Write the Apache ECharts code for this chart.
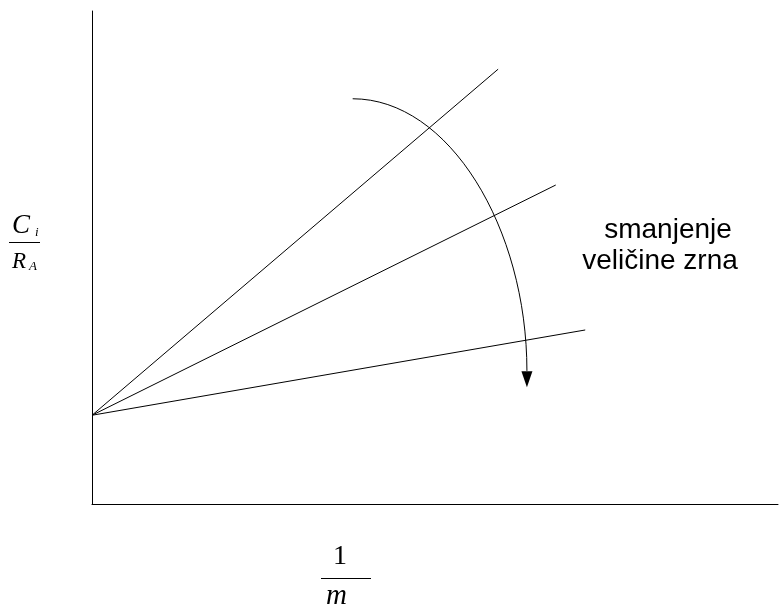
<!DOCTYPE html>
<html>
<head>
<meta charset="utf-8">
<script src="https://cdn.jsdelivr.net/npm/echarts@6/dist/echarts.min.js"></script>
<style>
html,body{margin:0;padding:0;background:#fff;}
#chart{width:779px;height:614px;}
</style>
</head>
<body>
<div id="chart"></div>
<script>
// Data (abstract units: x in [0,10], y in [0,10])
const origin = [0, 1.8];
const lineEnds = [[5.92, 8.82], [6.76, 6.47], [7.19, 3.53]];
// quarter-ellipse arrow: start point, corner and end point
const arcStart = [3.80, 8.22];
const arcEnd = [6.34, 2.70];
const arcCorner = [6.34, 8.22];
const arrowHead = [6.34, 2.53];
const annotationLines = ['smanjenje', 'veličine zrna'];

const chart = echarts.init(document.getElementById('chart'), null, {renderer: 'canvas'});

const lineSeries = lineEnds.map(function (end) {
  return {
    type: 'line',
    data: [origin, end],
    symbol: 'none',
    lineStyle: {color: '#000', width: 1},
    silent: true,
    animation: false
  };
});

const serif = '"Liberation Serif", "DejaVu Serif", serif';
const sans = '"Liberation Sans", Arial, sans-serif';
const K = 0.5523;

function txt(x, y, text, size, italic, family) {
  return {
    type: 'text', x: x, y: y,
    style: {
      text: text, fill: '#000', fontSize: size, fontFamily: family || serif,
      fontStyle: italic ? 'italic' : 'normal', verticalAlign: 'top', align: 'left'
    }
  };
}

chart.setOption({
  animation: false,
  backgroundColor: '#fff',
  grid: {left: 92, top: 11, right: 1, bottom: 110},
  xAxis: {
    type: 'value', min: 0, max: 10,
    axisLine: {show: true, onZero: false, lineStyle: {color: '#000', width: 1}},
    axisTick: {show: false}, axisLabel: {show: false}, splitLine: {show: false}
  },
  yAxis: {
    type: 'value', min: 0, max: 10,
    axisLine: {show: true, onZero: false, lineStyle: {color: '#000', width: 1}},
    axisTick: {show: false}, axisLabel: {show: false}, splitLine: {show: false}
  },
  series: lineSeries.concat([
    {
      type: 'custom',
      data: [[arcStart[0], arcStart[1], arcEnd[0], arcEnd[1], arcCorner[0], arcCorner[1]]],
      silent: true,
      renderItem: function (params, api) {
        const s = api.coord([api.value(0), api.value(1)]);
        const e = api.coord([api.value(2), api.value(3)]);
        const c = api.coord([api.value(4), api.value(5)]);
        const tip = api.coord(arrowHead);
        const cy = tip[1] + 8;
        const rx = c[0] - s[0];
        const ry = cy - s[1];
        return {
          type: 'group',
          children: [{
            type: 'bezierCurve',
            shape: {
              x1: s[0], y1: s[1],
              cpx1: s[0] + K * rx, cpy1: s[1],
              cpx2: e[0], cpy2: cy - K * ry,
              x2: e[0], y2: e[1]
            },
            style: {stroke: '#000', lineWidth: 1, fill: null}
          }]
        };
      }
    },
    {
      type: 'scatter',
      data: [arrowHead],
      symbol: 'triangle',
      symbolSize: [11, 16],
      symbolRotate: 180,
      itemStyle: {color: '#000', opacity: 1},
      silent: true
    }
  ]),
  graphic: [
    {type: 'text', x: 668, y: 216, style: {text: annotationLines[0], fill: '#000', fontSize: 28, fontFamily: sans, align: 'center', verticalAlign: 'top'}},
    {type: 'text', x: 660, y: 247, style: {text: annotationLines[1], fill: '#000', fontSize: 28, fontFamily: sans, align: 'center', verticalAlign: 'top'}},
    // C_i / R_A
    txt(12, 212, 'C', 27, true),
    txt(35, 226, 'i', 13, true),
    {type: 'line', shape: {x1: 9, y1: 242.5, x2: 40, y2: 242.5}, style: {stroke: '#000', lineWidth: 1}},
    txt(12, 250, 'R', 23, true),
    txt(29, 260, 'A', 13, true),
    // 1 / m
    txt(333, 543, '1', 28, false),
    {type: 'line', shape: {x1: 321, y1: 578.5, x2: 371, y2: 578.5}, style: {stroke: '#000', lineWidth: 1}},
    txt(326, 582, 'm', 29, true)
  ]
});
</script>
</body>
</html>
